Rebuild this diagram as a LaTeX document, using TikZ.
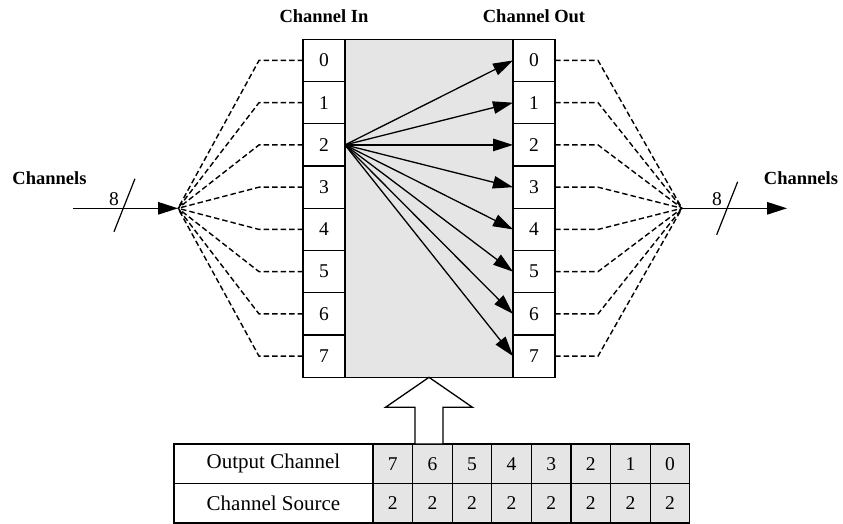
\documentclass[tikz,border=0pt]{standalone}
\usepackage{fontspec}
\setmainfont{Liberation Serif}
\usetikzlibrary{arrows.meta,calc,positioning}
\tikzstyle{slot}=[
	rectangle,
	draw=black,
	line width=1.3,
	fill=white,
	minimum width=42,
	minimum height=42.25,
	inner sep=0,
	outer sep=0,
	font=\fontsize{19.5}{19.5}\selectfont]
\tikzstyle{switchbox}=[
	rectangle,
	draw=black,
	line width=1.3,
	fill=gray!20,
	minimum width=168,
	minimum height=338,
	inner sep=0,
	outer sep=0]
\tikzstyle{rowlbl}=[
	rectangle,
	draw=black,
	line width=1.3,
	minimum width=199,
	minimum height=39.5,
	inner sep=0,
	outer sep=0,
	font=\fontsize{21}{21}\selectfont]
\tikzstyle{valcell}=[
	rectangle,
	draw=black,
	line width=1.3,
	fill=gray!20,
	minimum width=39.6,
	minimum height=39.5,
	inner sep=0,
	outer sep=0,
	font=\fontsize{19.5}{19.5}\selectfont]
\tikzstyle{title}=[
	inner sep=0,
	font=\fontsize{18.5}{18.5}\selectfont\bfseries]
\tikzstyle{route}=[->,line width=1.3]
\tikzstyle{link}=[line width=1.4,dash pattern=on 5.5pt off 3pt]
\tikzstyle{hollow}=[line width=1.3,fill=white,line join=miter]
\begin{document}
\begin{tikzpicture}[x=1pt,y=-1pt,>={Triangle[length=20pt,width=12.5pt]}]
	\useasboundingbox (0,0) rectangle (843,523);
	\node[switchbox]	(router)	at (429,208.3)	{};
	% input and output slots
	\foreach \k in {0,...,7}{
		\node[slot,anchor=north east]	(in\k)	at ($(router.north west)+(0,42.25*\k)$)	{\k};
		\node[slot,anchor=north west]	(out\k)	at ($(router.north east)+(0,42.25*\k)$)	{\k};
	}
	\node[title,above=16pt of in0]	(tin)	{Channel In};
	\node[title,above=16pt of out0]	(tout)	{Channel Out};
	% routes from source channel 2
	\foreach \k in {0,...,7}
		\draw[route]	(in2.east) -- (out\k.west);
	% fan in / fan out
	\coordinate	(fanin)		at (178,208.3);
	\coordinate	(fanout)	at (682,208.3);
	\coordinate	(chin)		at (73,208.3);
	\coordinate	(chout)		at (787,208.3);
	\foreach \k in {0,...,7}{
		\draw[link]	(in\k.west) -- ++(-44,0) -- (fanin);
		\draw[link]	(out\k.east) -- ++(43,0) -- (fanout);
	}
	\draw[route]	(chin) -- (fanin);
	\draw[route]	(fanout) -- (chout);
	\coordinate	(cutin)		at ($(chin)!0.49!(fanin)$);
	\coordinate	(cutout)	at ($(fanout)!0.43!(chout)$);
	\draw[line width=1.2]	(cutin) ++(-10.5,23.5) -- ++(21,-53);
	\draw[line width=1.2]	(cutout) ++(-10.5,26.5) -- ++(21,-53);
	\node[anchor=base,inner sep=0,font=\fontsize{19.5}{19.5}\selectfont]	(nin)	at (114,205)	{8};
	\node[anchor=base,inner sep=0,font=\fontsize{19.5}{19.5}\selectfont]	(nout)	at (717,205)	{8};
	\node[title,anchor=base]	(lin)	at (49.5,184)	{Channels};
	\node[title,anchor=base]	(lout)	at (801,184)	{Channels};
	% control table
	\node[rowlbl,anchor=north west]	(outch)	at (174,444)	{Output Channel};
	\node[rowlbl,below=0pt of outch]	(chsrc)	{Channel Source};
	\foreach \v [count=\k from 0] in {7,6,5,4,3,2,1,0}{
		\node[valcell,anchor=north west]	(o\k)	at ([xshift=\k*39.6pt]outch.north east)	{\v};
		\node[valcell,below=0pt of o\k]	(s\k)	{2};
	}
	% select arrow
	\coordinate	(push)	at (outch.north -| router.south);
	\draw[hollow]	(router.south) -- ++(43.5,30) -- ++(-29.5,0) -- ([xshift=14pt]push)
		-- ([xshift=-14pt]push) -- ($(router.south)+(-14,30)$) -- ++(-29.5,0) -- cycle;
\end{tikzpicture}
\end{document}
